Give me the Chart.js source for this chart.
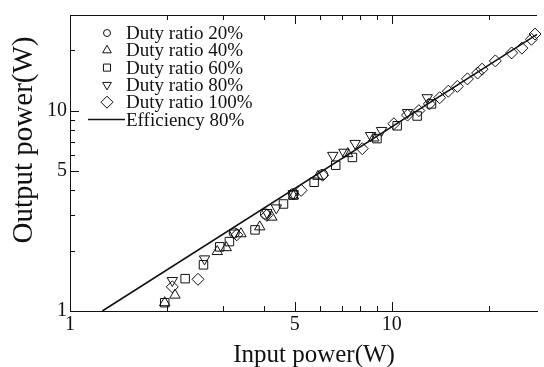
<!DOCTYPE html>
<html>
<head>
<meta charset="utf-8">
<script src="https://cdn.jsdelivr.net/npm/chart.js@4"></script>
<style>
  html, body { margin: 0; padding: 0; background: #fff; }
  #wrap { width: 544px; height: 367px; }
</style>
</head>
<body>
<div id="wrap"><canvas id="powerChart" width="544" height="367"></canvas></div>
<script>
// values (input power W -> output power W)
const duty20In  = [3.24, 4.05, 4.95, 6.1];
const duty20Out = [2.45, 3.05, 3.85, 4.8];

const duty40In  = [1.97, 2.12, 2.87, 3.06, 3.40, 3.89, 4.24, 4.95, 5.9, 7.3, 8.8];
const duty40Out = [1.10, 1.20, 1.98, 2.07, 2.43, 2.63, 2.94, 3.75, 4.7, 6.1, 7.3];

const duty60In  = [1.97, 2.28, 2.60, 2.92, 3.13, 3.76, 4.61, 4.94, 5.74, 6.7, 7.55, 9.0, 10.4, 12.0, 13.3];
const duty60Out = [1.10, 1.45, 1.70, 2.09, 2.22, 2.54, 3.42, 3.79, 4.39, 5.34, 5.84, 7.25, 8.4, 9.4, 10.8];

const duty80In  = [2.08, 2.62, 3.24, 4.09, 4.38, 4.94, 6.56, 7.1, 7.7, 8.6, 9.3, 11.2, 12.9];
const duty80Out = [1.42, 1.82, 2.45, 3.1, 3.27, 3.85, 5.98, 6.2, 6.86, 7.51, 7.96, 9.78, 11.6];

const duty100In  = [2.08, 2.50, 3.30, 4.09, 5.23, 6.1, 8.1, 10.16, 11.2, 12.15, 13.1, 14.1, 15.0, 16.0, 17.2, 18.5, 19.1, 21.0, 23.6, 25.4, 27.2, 27.9];
const duty100Out = [1.32, 1.44, 2.40, 3.0, 4.0, 4.76, 6.46, 8.6, 9.5, 10.0, 10.8, 11.6, 12.5, 13.2, 14.4, 15.4, 16.1, 17.7, 19.4, 20.5, 22.7, 24.1];

const effIn  = [1.26, 28.3];
const effOut = [1.0, 24.0];

const xTicks = [1, 2, 3, 4, 5, 6, 7, 8, 9, 10, 20];
const yTicks = [1, 2, 3, 4, 5, 6, 7, 8, 9, 10, 20];
const shownLabels = [1, 5, 10];

const serif = "'Liberation Serif', 'Times New Roman', serif";

const pts = (xs, ys) => xs.map((x, i) => ({ x: x, y: ys[i] }));

const marker = (label, xs, ys, style, radius, rotation) => ({
  type: 'scatter',
  label: label,
  data: pts(xs, ys),
  pointStyle: style,
  pointRadius: radius,
  pointRotation: rotation || 0,
  pointBorderColor: '#111',
  pointBackgroundColor: 'rgba(0,0,0,0)',
  pointBorderWidth: 1,
  showLine: false
});

// inward ticks, top frame, axis titles and legend
const framePlugin = {
  id: 'frame',
  afterDraw(chart) {
    const ctx = chart.ctx;
    const a = chart.chartArea;
    const xs = chart.scales.x, ys = chart.scales.y;
    ctx.save();
    ctx.strokeStyle = '#111';
    ctx.lineWidth = 1;
    ctx.beginPath();
    ctx.moveTo(a.left, a.top + 0.5);
    ctx.lineTo(a.right, a.top + 0.5);
    xTicks.forEach(v => {
      const px = Math.round(xs.getPixelForValue(v)) + 0.5;
      const len = (v === 5 || v === 10) ? 9 : 5;
      ctx.moveTo(px, a.bottom); ctx.lineTo(px, a.bottom - len);
      ctx.moveTo(px, a.top); ctx.lineTo(px, a.top + len);
    });
    yTicks.forEach(v => {
      const py = Math.round(ys.getPixelForValue(v)) + 0.5;
      const len = (v === 5 || v === 10) ? 9 : 5;
      ctx.moveTo(a.left, py); ctx.lineTo(a.left + len, py);
    });
    ctx.stroke();

    ctx.fillStyle = '#111';
    ctx.textAlign = 'center';
    ctx.textBaseline = 'middle';
    ctx.font = '25px ' + serif;
    ctx.fillText('Input power(W)', 314, 355);

    // y title, sits a bit above centre in the reference
    ctx.font = '29px ' + serif;
    ctx.translate(24, 140);
    ctx.rotate(-Math.PI / 2);
    ctx.fillText('Output power(W)', 0, 0);
    ctx.restore();

    // legend
    ctx.save();
    ctx.fillStyle = '#111';
    ctx.strokeStyle = '#111';
    ctx.font = '19px ' + serif;
    ctx.textBaseline = 'alphabetic';
    const rows = [
      { text: 'Duty ratio 20%', style: 'circle', r: 3.5, rot: 0 },
      { text: 'Duty ratio 40%', style: 'triangle', r: 5, rot: 0 },
      { text: 'Duty ratio 60%', style: 'rect', r: 5, rot: 0 },
      { text: 'Duty ratio 80%', style: 'triangle', r: 5, rot: 180 },
      { text: 'Duty ratio 100%', style: 'rectRot', r: 6, rot: 0 }
    ];
    rows.forEach((row, i) => {
      const base = 39 + i * 17.3;
      ctx.fillStyle = 'rgba(0,0,0,0)';
      ctx.lineWidth = 1;
      Chart.helpers.drawPoint(ctx, { pointStyle: row.style, radius: row.r, rotation: row.rot, borderWidth: 1 }, 107, base - 6);
      ctx.fillStyle = '#111';
      ctx.fillText(row.text, 126, base);
    });
    const eBase = 39 + 5 * 17.3;
    ctx.lineWidth = 1.5;
    ctx.beginPath();
    ctx.moveTo(88, eBase - 6);
    ctx.lineTo(125, eBase - 6);
    ctx.stroke();
    ctx.fillText('Efficiency 80%', 126, eBase);
    ctx.restore();
  }
};

const ctx = document.getElementById('powerChart').getContext('2d');

new Chart(ctx, {
  type: 'scatter',
  data: {
    datasets: [
      {
        type: 'line',
        label: 'Efficiency 80%',
        data: pts(effIn, effOut),
        borderColor: '#111',
        borderWidth: 1.5,
        pointRadius: 0,
        fill: false,
        tension: 0
      },
      marker('Duty ratio 20%', duty20In, duty20Out, 'circle', 5),
      marker('Duty ratio 40%', duty40In, duty40Out, 'triangle', 6),
      marker('Duty ratio 60%', duty60In, duty60Out, 'rect', 6),
      marker('Duty ratio 80%', duty80In, duty80Out, 'triangle', 6, 180),
      marker('Duty ratio 100%', duty100In, duty100Out, 'rectRot', 6)
    ]
  },
  options: {
    responsive: false,
    animation: false,
    clip: false,
    layout: { padding: { top: 13, right: 0, left: 0, bottom: 0 } },
    plugins: {
      legend: { display: false },
      tooltip: { enabled: false }
    },
    scales: {
      x: {
        type: 'logarithmic',
        min: 1,
        max: 28.3,
        afterBuildTicks: s => { s.ticks = xTicks.map(v => ({ value: v })); },
        afterFit: s => { s.height = 56; },
        grid: { display: false, drawTicks: false },
        border: { display: true, color: '#111', width: 1 },
        ticks: {
          color: '#111',
          font: { family: serif, size: 20 },
          padding: 2,
          maxRotation: 0,
          autoSkip: false,
          callback: v => shownLabels.includes(v) ? String(v) : ''
        }
      },
      y: {
        type: 'logarithmic',
        min: 1,
        max: 30,
        afterBuildTicks: s => { s.ticks = yTicks.map(v => ({ value: v })); },
        afterFit: s => { s.width = 70; },
        grid: { display: false, drawTicks: false },
        border: { display: true, color: '#111', width: 1 },
        ticks: {
          color: '#111',
          font: { family: serif, size: 20 },
          padding: 3,
          autoSkip: false,
          callback: v => shownLabels.includes(v) ? String(v) : ''
        }
      }
    }
  },
  plugins: [framePlugin]
});
</script>
</body>
</html>
